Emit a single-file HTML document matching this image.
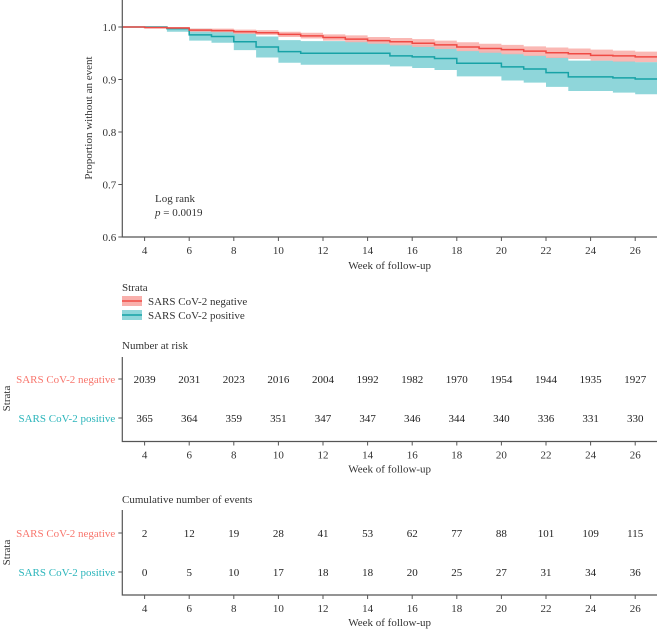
<!DOCTYPE html>
<html><head><meta charset="utf-8"><style>
html,body{margin:0;padding:0;background:#fff;}
svg{display:block;font-family:"Liberation Serif",serif;}
</style></head><body>
<svg id="chart" width="657" height="630" viewBox="0 0 657 630"></svg>
<script>
const weeks=[3,4,5,6,7,8,9,10,11,12,13,14,15,16,17,18,19,20,21,22,23,24,25,26,27];
const negSurv=[1,0.999,0.998,0.994,0.993,0.991,0.989,0.986,0.983,0.980,0.977,0.974,0.972,0.969,0.966,0.962,0.959,0.957,0.954,0.951,0.949,0.946,0.945,0.943,0.943];
const negLow=[1,0.997,0.996,0.991,0.990,0.987,0.985,0.981,0.978,0.974,0.971,0.968,0.965,0.962,0.958,0.954,0.951,0.948,0.945,0.941,0.939,0.936,0.934,0.933,0.933];
const negHigh=[1,1,1,0.997,0.997,0.995,0.994,0.991,0.989,0.986,0.984,0.981,0.979,0.977,0.974,0.971,0.968,0.966,0.963,0.961,0.959,0.957,0.955,0.953,0.953];
const posSurv=[1,1,0.997,0.985,0.982,0.972,0.962,0.953,0.950,0.950,0.950,0.950,0.945,0.943,0.940,0.931,0.931,0.924,0.920,0.913,0.905,0.905,0.903,0.901,0.901];
const posLow=[1,1,0.991,0.974,0.970,0.956,0.942,0.932,0.928,0.928,0.928,0.928,0.925,0.922,0.918,0.906,0.906,0.898,0.894,0.886,0.878,0.878,0.875,0.872,0.872];
const posHigh=[1,1,1,0.997,0.994,0.989,0.982,0.975,0.973,0.973,0.973,0.973,0.967,0.966,0.963,0.955,0.955,0.950,0.946,0.943,0.936,0.936,0.935,0.933,0.933];
const tickWeeks=[4,6,8,10,12,14,16,18,20,22,24,26];
const yTicks=[0.6,0.7,0.8,0.9,1.0];
const riskNeg=[2039,2031,2023,2016,2004,1992,1982,1970,1954,1944,1935,1927];
const riskPos=[365,364,359,351,347,347,346,344,340,336,331,330];
const eventsNeg=[2,12,19,28,41,53,62,77,88,101,109,115];
const eventsPos=[0,5,10,17,18,18,20,25,27,31,34,36];

const svg=document.getElementById('chart');
const NS='http://www.w3.org/2000/svg';
const X0=122.3,PX=22.3;
function xs(w){return X0+(w-3)*PX;}
function ys(v){return 237-(v-0.6)*525;}
function el(tag,attrs,parent){const e=document.createElementNS(NS,tag);for(const k in attrs)e.setAttribute(k,attrs[k]);(parent||svg).appendChild(e);return e;}
function txt(s,attrs,parent){const e=el('text',attrs,parent);e.textContent=s;return e;}
function stepPath(vals){let d='M'+xs(weeks[0])+','+ys(vals[0]);for(let i=1;i<weeks.length;i++){d+='H'+xs(weeks[i])+'V'+ys(vals[i]);}return d;}
function bandPath(lo,hi){let d='M'+xs(weeks[0])+','+ys(hi[0]);for(let i=1;i<weeks.length;i++){d+='H'+xs(weeks[i])+'V'+ys(hi[i]);}
 d+='V'+ys(lo[weeks.length-1]);for(let i=weeks.length-1;i>0;i--){d+='H'+xs(weeks[i])+'V'+ys(lo[i-1]);}d+='H'+xs(weeks[0])+'Z';return d;}

let b=el('path',{d:bandPath(posLow,posHigh),fill:'#8fd6da'});


b=el('path',{d:bandPath(negLow,negHigh),fill:'#f9b0ac','fill-opacity':'0.9'});


let l=el('path',{d:stepPath(posSurv),fill:'none',stroke:'#17a2a6','stroke-width':'1.5'});


l=el('path',{d:stepPath(negSurv),fill:'none',stroke:'#f04a44','stroke-width':'1.5'});



let a=el('path',{d:'M'+X0+',0V237H657',fill:'none',stroke:'#555','stroke-width':'1.2'});


yTicks.forEach(v=>{
 el('line',{x1:X0-4,x2:X0,y1:ys(v),y2:ys(v),stroke:'#555'});
 const t=txt(v.toFixed(1),{x:X0-6,y:ys(v)+4,'text-anchor':'end','font-size':'11',fill:'#333'});
 
 
});
function xAxisTicks(yAxis){
 tickWeeks.forEach(w=>{
  el('line',{x1:xs(w),x2:xs(w),y1:yAxis,y2:yAxis+4,stroke:'#555'});
  const t=txt(String(w),{x:xs(w),y:yAxis+17,'text-anchor':'middle','font-size':'11',fill:'#333'});
  
  
 });
}
xAxisTicks(237);
let t=txt('Week of follow-up',{x:(X0+657)/2,y:269,'text-anchor':'middle','font-size':'11',fill:'#333'});


t=txt('Proportion without an event',{x:0,y:0,transform:'translate(92,118) rotate(-90)','text-anchor':'middle','font-size':'11',fill:'#333'});


t=txt('Log rank',{x:155,y:202,'font-size':'11',fill:'#333'});


t=el('text',{x:155,y:216,'font-size':'11',fill:'#333'});
t.innerHTML='<tspan font-style="italic">p</tspan> = 0.0019';



t=txt('Strata',{x:122,y:291,'font-size':'11',fill:'#333'});


[['SARS CoV-2 negative','#f9b0ac','#f04a44',301],['SARS CoV-2 positive','#8fd6da','#17a2a6',315]].forEach(r=>{
 const g=el('g',{});
 
 
 el('rect',{x:122,y:r[3]-5,width:20,height:10,fill:r[1]},g);
 el('line',{x1:122,x2:142,y1:r[3],y2:r[3],stroke:r[2],'stroke-width':'1.5'},g);
 txt(r[0],{x:148,y:r[3]+4,'font-size':'11',fill:'#333'},g);
});

function table(title,titleY,top,row1,row2,bottom,vals1,vals2){
 const g=el('g',{});
 
 
 txt(title,{x:122,y:titleY,'font-size':'11',fill:'#333'},g);
 el('path',{d:'M'+X0+','+top+'V'+bottom+'H657',fill:'none',stroke:'#555','stroke-width':'1.2'},g);
 [[row1,'SARS CoV-2 negative','#f8766d',vals1],[row2,'SARS CoV-2 positive','#2bb5bb',vals2]].forEach(r=>{
  el('line',{x1:X0-4,x2:X0,y1:r[0],y2:r[0],stroke:'#555'},g);
  txt(r[1],{x:X0-7,y:r[0]+4,'text-anchor':'end','font-size':'11',fill:r[2]},g);
  r[3].forEach((v,i)=>{txt(String(v),{x:xs(tickWeeks[i]),y:r[0]+4,'text-anchor':'middle','font-size':'11',fill:'#222'},g);});
 });
 xAxisTicks(bottom);
 txt('Week of follow-up',{x:(X0+657)/2,y:bottom+31,'text-anchor':'middle','font-size':'11',fill:'#333'},g);
 txt('Strata',{x:0,y:0,transform:'translate(10,'+((row1+row2)/2)+') rotate(-90)','text-anchor':'middle','font-size':'11',fill:'#333'},g);
}
table('Number at risk',349,357,379,418,441.5,riskNeg,riskPos);
table('Cumulative number of events',503,510,533,572,595,eventsNeg,eventsPos);
</script>
</body></html>
